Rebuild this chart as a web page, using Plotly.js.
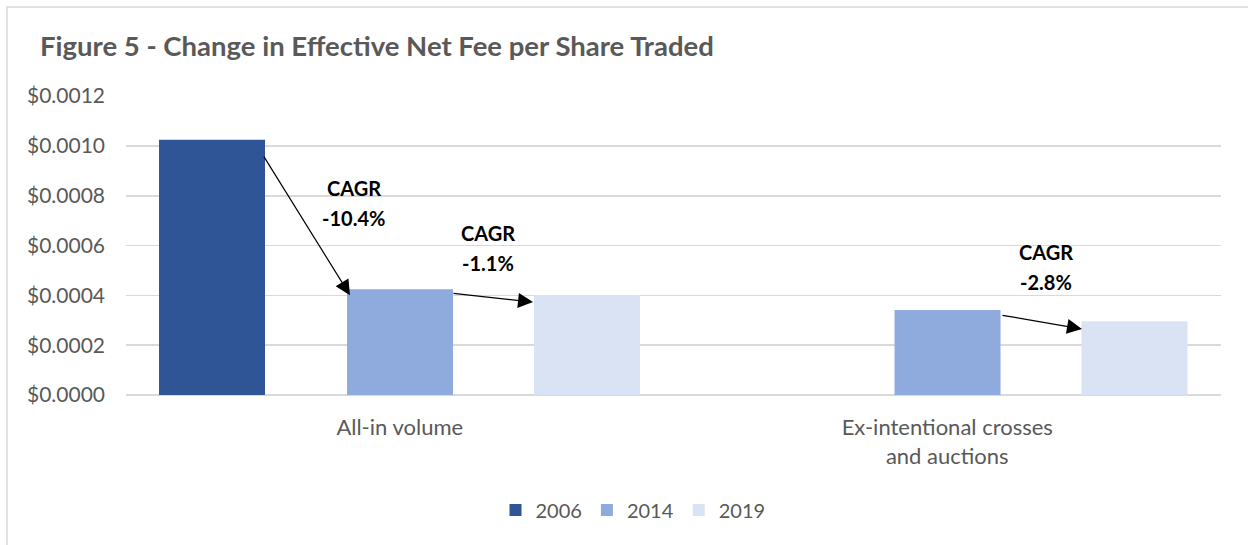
<!DOCTYPE html>
<html>
<head>
<meta charset="utf-8">
<script src="https://cdn.plot.ly/plotly-3.0.1.min.js"></script>
<style>
html,body{margin:0;padding:0;background:#fff;}
#chart{width:1248px;height:545px;}
</style>
</head>
<body>
<div id="chart"></div>
<script>
// Data
var categories = ['All-in volume', 'Ex-intentional crosses<br>and auctions'];
var years = ['2006', '2014', '2019'];
var fee2006 = [0.001025, null];
var fee2014 = [0.000425, 0.000341];
var fee2019 = [0.000402, 0.000296];
var cagrLabels = ['-10.4%', '-1.1%', '-2.8%'];
var yTickVals = [0, 0.0002, 0.0004, 0.0006, 0.0008, 0.0010, 0.0012];
var yTickText = ['$0.0000', '$0.0002', '$0.0004', '$0.0006', '$0.0008', '$0.0010', '$0.0012'];

var colors = ['#2F5597', '#8FAADC', '#DAE3F3'];
var barWidth = 0.1936;
var offsets = [-0.4397, -0.0963, 0.2452];
var series = [fee2006, fee2014, fee2019];
var FONT = 'Lato, "Open Sans", sans-serif';
var GRAY = '#595959';

var traces = series.map(function (vals, i) {
  return {
    type: 'bar',
    name: years[i],
    x: categories,
    y: vals,
    width: [barWidth, barWidth],
    offset: [offsets[i], offsets[i]],
    marker: {color: colors[i]},
    hoverinfo: 'skip'
  };
});

function ann(x, y, text) {
  return {x: x, y: y, xref: 'x', yref: 'y', text: text, showarrow: false,
    font: {family: FONT, size: 20, color: '#000000', weight: 'bold'}, xanchor: 'center', yanchor: 'middle'};
}
function arrow(x0, y0, x1, y1) {
  return {x: x1, y: y1, ax: x0, ay: y0, xref: 'x', yref: 'y', axref: 'x', ayref: 'y',
    text: '', showarrow: true, arrowhead: 2, arrowsize: 2.5, arrowwidth: 1.2, arrowcolor: '#000000'};
}

var annotations = [
  ann(-0.0836, 0.000830, 'CAGR'), ann(-0.0836, 0.000710, cagrLabels[0]),
  ann(0.1612, 0.000650, 'CAGR'), ann(0.1612, 0.000530, cagrLabels[1]),
  ann(1.1804, 0.000574, 'CAGR'), ann(1.1804, 0.000453, cagrLabels[2]),
  arrow(-0.2498, 0.000963, -0.0909, 0.000401),
  arrow(0.0954, 0.000409, 0.2434, 0.000373),
  arrow(1.0982, 0.000321, 1.2461, 0.000265)
];

var layout = {
  width: 1248, height: 545,
  margin: {l: 126, r: 27, t: 96, b: 150},
  paper_bgcolor: '#ffffff', plot_bgcolor: '#ffffff',
  title: {text: '<b>Figure 5 - Change in Effective Net Fee per Share Traded</b>',
    font: {family: FONT, size: 27.5, color: GRAY}, x: 40 / 1248, xanchor: 'left', xref: 'container',
    y: 1 - 46 / 545, yanchor: 'middle', yref: 'container'},
  barmode: 'overlay',
  showlegend: true,
  legend: {orientation: 'h', x: (633 - 126) / 1095, xanchor: 'center', y: (395 - 510) / 299, yanchor: 'middle',
    font: {family: FONT, size: 20, color: GRAY}, traceorder: 'normal'},
  xaxis: {type: 'category', range: [-0.5, 1.5], showgrid: false, zeroline: false, showline: false,
    ticks: '', ticklabelstandoff: 17, tickfont: {family: FONT, size: 22, color: GRAY}, fixedrange: true},
  yaxis: {range: [0, 0.0012005], tickvals: yTickVals, ticktext: yTickText, showgrid: true,
    gridcolor: '#D9D9D9', gridwidth: 1.5, zeroline: true, zerolinecolor: '#D9D9D9', zerolinewidth: 1.5,
    showline: false, ticks: '', ticklabelstandoff: 20,
    tickfont: {family: FONT, size: 21, color: GRAY}, fixedrange: true},
  annotations: annotations,
  shapes: [{type: 'rect', xref: 'paper', yref: 'paper',
    x0: (7 - 126) / 1095, x1: 1.2, y0: -1, y1: (395 - 7) / 299,
    line: {color: '#D9D9D9', width: 1.5}, fillcolor: 'rgba(0,0,0,0)', layer: 'below'}]
};

Plotly.newPlot('chart', traces, layout, {staticPlot: true, displayModeBar: false});
</script>
</body>
</html>
